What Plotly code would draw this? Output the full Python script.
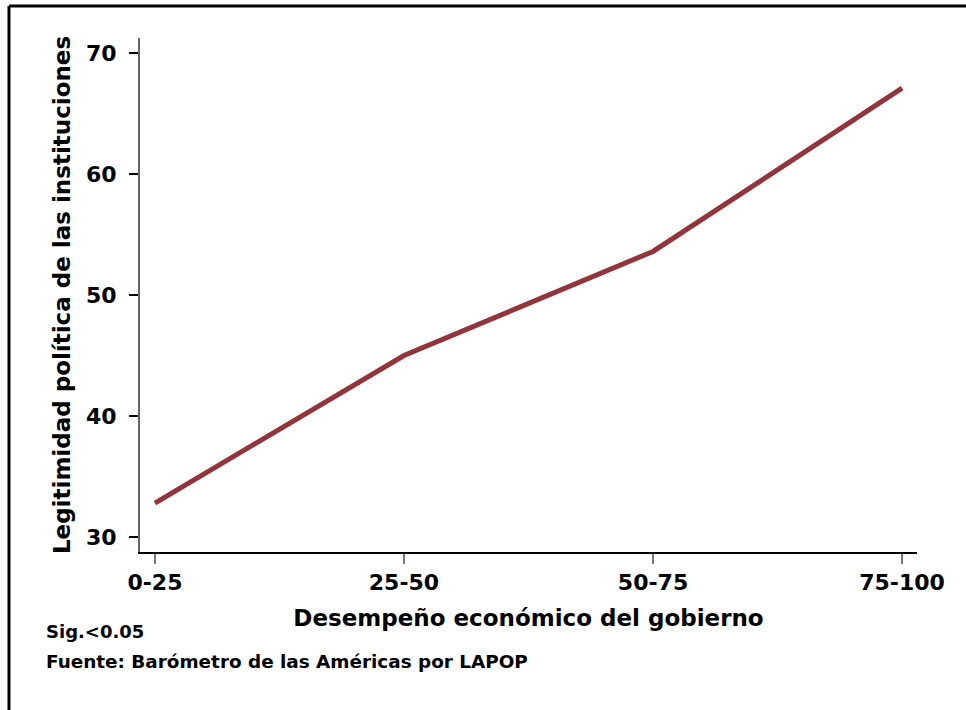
import plotly.graph_objects as go

categories = ["0-25", "25-50", "50-75", "75-100"]
values = [32.8, 45.0, 53.6, 67.1]
y_ticks = [30, 40, 50, 60, 70]

W, H = 966, 710
L, R, T, B = 140, 917, 38, 552

def px_x(px):
    return (px - L) / (R - L)

def px_y(py):
    return (B - py) / (B - T)

FONT = "DejaVu Sans, Liberation Sans, Arial, sans-serif"

fig = go.Figure()
fig.add_trace(go.Scatter(
    x=list(range(len(categories))), y=values, mode="lines",
    line=dict(color="#93333b", width=5), hoverinfo="skip", showlegend=False,
))

fig.update_layout(
    width=W, height=H,
    margin=dict(l=L, r=W - R, t=T, b=H - B),
    paper_bgcolor="white", plot_bgcolor="white",
    font=dict(family=FONT, color="black", weight="bold"),
    xaxis=dict(
        range=[-0.06, 3.06], tickmode="array",
        tickvals=list(range(len(categories))), ticktext=categories,
        showgrid=False, zeroline=False,
        showline=True, linecolor="black", linewidth=1.5,
        ticks="outside", ticklen=10, tickwidth=2, tickcolor="#777777",
        tickfont=dict(size=22, family=FONT, weight="bold"),
        title=dict(text="Desempeño económico del gobierno",
                   font=dict(size=23, family=FONT, weight="bold"), standoff=16),
    ),
    yaxis=dict(
        range=[28.76, 71.24], tickmode="array", tickvals=y_ticks,
        showgrid=False, zeroline=False,
        showline=True, linecolor="#666666", linewidth=2,
        ticks="outside", ticklen=9, tickwidth=1.5, tickcolor="black",
        ticklabelstandoff=8,
        tickfont=dict(size=22, family=FONT, weight="bold"),
        title=dict(text="Legitimidad política de las instituciones",
                   font=dict(size=23, family=FONT, weight="bold"), standoff=9),
    ),
    shapes=[
        dict(type="line", xref="paper", yref="paper",
             x0=px_x(9), x1=px_x(966), y0=px_y(6), y1=px_y(6),
             line=dict(color="black", width=3)),
        dict(type="line", xref="paper", yref="paper",
             x0=px_x(9), x1=px_x(9), y0=px_y(6), y1=px_y(712),
             line=dict(color="black", width=3)),
    ],
    annotations=[
        dict(text="Sig.<0.05", xref="paper", yref="paper",
             x=px_x(44), y=px_y(631), xanchor="left", yanchor="middle",
             showarrow=False, font=dict(size=18, family=FONT, weight="bold")),
        dict(text="Fuente: Barómetro de las Américas por LAPOP", xref="paper", yref="paper",
             x=px_x(44), y=px_y(661), xanchor="left", yanchor="middle",
             showarrow=False, font=dict(size=18.4, family=FONT, weight="bold")),
    ],
)

fig.write_html("out.html", config={"displayModeBar": False},
               post_script="document.body.style.margin='0';")
